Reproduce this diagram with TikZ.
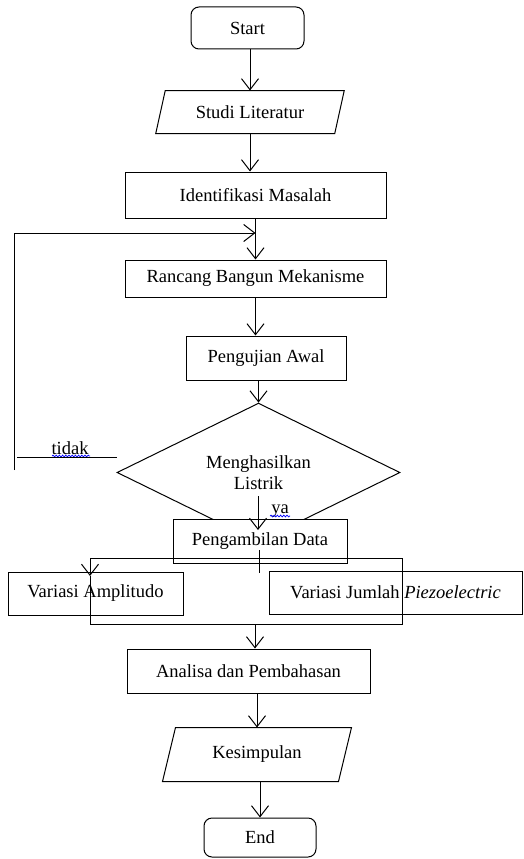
\documentclass[tikz,border=0pt]{standalone}
\usepackage{fontspec}
\setmainfont{Liberation Serif}
\usetikzlibrary{arrows.meta,shapes.geometric,decorations.pathmorphing}
\begin{document}
\begin{tikzpicture}[x=1pt,y=-1pt,line width=1pt,
  every node/.style={font=\fontsize{18.5}{21}\selectfont, inner sep=0pt},
  proc/.style={draw, rectangle},
  term/.style={draw, rectangle, rounded corners=8pt},
  pgbody/.style={draw=none, rectangle},
  decision/.style={draw, diamond, align=center},
  arr/.style={-{Straight Barb[length=11pt,width=17pt]}},
  squiggle/.style={draw=blue, line width=0.7pt, decorate, decoration={snake, amplitude=0.9pt, segment length=3.2pt}}]
\useasboundingbox (0,0) rectangle (523,859);

% nodes
\node[term, minimum width=113pt, minimum height=42pt] (start) at (247.5,28) {Start};
\node[pgbody, minimum width=178pt, minimum height=42pt] (studi) at (250,112) {Studi Literatur};
\draw ([xshift=4.75pt]studi.north west) -- ([xshift=4.75pt]studi.north east) -- ([xshift=-4.75pt]studi.south east) -- ([xshift=-4.75pt]studi.south west) -- cycle;
\node[proc, minimum width=261pt, minimum height=46pt] (ident) at (255.5,195) {Identifikasi Masalah};
\node[proc, minimum width=261pt, minimum height=37pt] (rancang) at (255.5,278.5) {Rancang Bangun Mekanisme};
\node[proc, minimum width=160pt, minimum height=44pt] (uji) at (266,358) {Pengujian Awal};
\node[decision, minimum width=283pt, minimum height=111pt] (dec) at (258.5,472.5) {Menghasilkan\\Listrik};
\node[proc, fill=white, minimum width=174pt, minimum height=44pt] (pd) at (260,541) {Pengambilan Data};
\node[proc, minimum width=175pt, minimum height=43pt] (va) at (95.5,593.5) {Variasi Amplitudo};
\node[proc, minimum width=253pt, minimum height=43pt] (vj) at (395.5,592.5) {Variasi Jumlah \textit{Piezoelectric}};
\node[proc, minimum width=243pt, minimum height=44pt] (an) at (248.5,671) {Analisa dan Pembahasan};
\node[pgbody, minimum width=175pt, minimum height=53pt] (kes) at (257,754.5) {Kesimpulan};
\draw ([xshift=6.5pt]kes.north west) -- ([xshift=6.5pt]kes.north east) -- ([xshift=-6.5pt]kes.south east) -- ([xshift=-6.5pt]kes.south west) -- cycle;
\node[term, minimum width=112pt, minimum height=39pt] (endn) at (260,837.5) {End};

% labels
\node[anchor=base] (tidak) at (70,454) {tidak};
\node[anchor=base] (ya) at (280,513) {ya};
\draw[squiggle] (52,456) -- (90,456);
\draw[squiggle] (270,516) -- (290,516);

% helper coordinates
\coordinate (lb) at (14,470);
\coordinate (lt) at (14,233);
\coordinate (t1) at (17,457);
\coordinate (t2) at (117,457);
\coordinate (yastart) at (258,496);
\coordinate (yatip) at (258,530);
\coordinate (tk1) at (259,550);
\coordinate (tk2) at (259,573);
\coordinate (bl) at (90,558);
\coordinate (br) at (402,558);
\coordinate (vatip) at (90,576);
\coordinate (cl) at (90,624);
\coordinate (cr) at (402,624);
\coordinate (merge) at (255,624);

% connectors
\draw[arr] (studi.north |- start.south) -- (studi.north);
\draw[arr] (studi.south) -- (studi.south |- ident.north);
\draw[arr] (ident.south) -- (ident.south |- rancang.north);
\draw[arr] (lb) -- (lt) -- (ident.south |- lt);
\draw[arr] (rancang.south) -- (rancang.south |- uji.north);
\draw[arr] (dec.north |- uji.south) -- (dec.north);
\draw (t1) -- (t2);
\draw[arr] (yastart) -- (yatip);
\draw (tk1) -- (tk2);
\draw (bl) -- (br) -- (cr) -- (cl);
\draw[arr] (bl) -- (vatip);
\draw (vatip) -- (cl);
\draw[arr] (merge) -- (merge |- an.north);
\draw[arr] (kes.north |- an.south) -- (kes.north);
\draw[arr] (endn.north |- kes.south) -- (endn.north);
\end{tikzpicture}
\end{document}
